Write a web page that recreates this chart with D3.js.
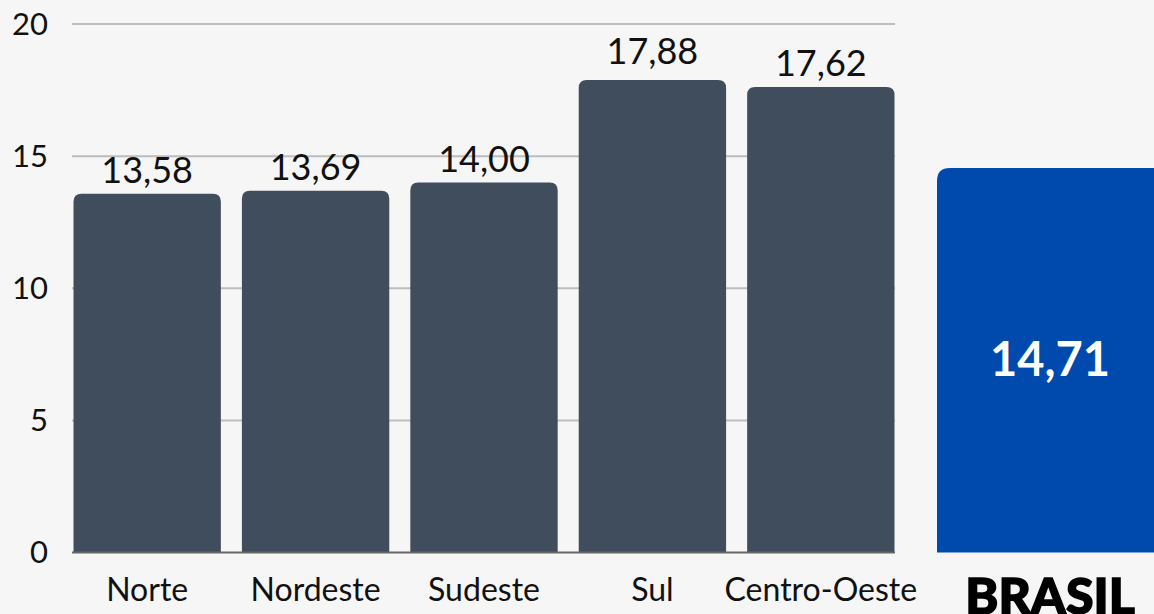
<!DOCTYPE html>
<html>
<head>
<meta charset="utf-8">
<script src="https://cdn.jsdelivr.net/npm/d3@7"></script>
<style>
  html, body { margin: 0; padding: 0; background: #f6f6f6; }
  svg { display: block; font-family: Lato, "Open Sans", sans-serif; }
</style>
</head>
<body>
<div id="chart"></div>
<script>
var width = 1154,
    height = 614;

// data
var regions = ["Norte", "Nordeste", "Sudeste", "Sul", "Centro-Oeste"];
var values = [13.58, 13.69, 14.00, 17.88, 17.62];
var valueLabels = ["13,58", "13,69", "14,00", "17,88", "17,62"];
var yTicks = [0, 5, 10, 15, 20];
var brasilValue = 14.71;
var brasilLabel = "14,71";

var svg = d3.select("#chart").append("svg")
    .attr("width", width)
    .attr("height", height);

svg.append("rect")
    .attr("width", width)
    .attr("height", height)
    .style("fill", "#f6f6f6");

var x = d3.scaleBand()
    .domain(regions)
    .range([73.5, 894.5])
    .paddingInner(0.125)
    .paddingOuter(0);

var y = d3.scaleLinear()
    .domain([0, 20])
    .range([552.5, 24]);

// gridlines
svg.selectAll("line.grid")
    .data(yTicks.filter(function (d) { return d > 0; }))
    .enter().append("line")
    .attr("class", "grid")
    .attr("x1", 72)
    .attr("x2", 895)
    .attr("y1", function (d) { return y(d); })
    .attr("y2", function (d) { return y(d); })
    .style("stroke", "#bdbdbd")
    .style("stroke-width", 2);

// y tick labels
svg.selectAll("text.ytick")
    .data(yTicks)
    .enter().append("text")
    .attr("class", "ytick")
    .attr("x", 48)
    .attr("y", function (d) { return y(d); })
    .attr("dy", "0.35em")
    .attr("text-anchor", "end")
    .style("font-size", "31px")
    .style("fill", "#111")
    .text(function (d) { return d; });

// bars with rounded tops
function topRounded(x0, y0, w, h, r) {
    return "M" + x0 + "," + (y0 + h) +
        "V" + (y0 + r) +
        "Q" + x0 + "," + y0 + " " + (x0 + r) + "," + y0 +
        "H" + (x0 + w - r) +
        "Q" + (x0 + w) + "," + y0 + " " + (x0 + w) + "," + (y0 + r) +
        "V" + (y0 + h) + "Z";
}

svg.selectAll("path.bar")
    .data(values)
    .enter().append("path")
    .attr("class", "bar")
    .attr("d", function (d, i) {
        return topRounded(x(regions[i]), y(d), x.bandwidth(), y(0) - y(d), 8);
    })
    .style("fill", "#404d5c");

// baseline
svg.append("line")
    .attr("x1", 72)
    .attr("x2", 895)
    .attr("y1", y(0))
    .attr("y2", y(0))
    .style("stroke", "#666")
    .style("stroke-width", 2);

// value labels
svg.selectAll("text.val")
    .data(values)
    .enter().append("text")
    .attr("class", "val")
    .attr("x", function (d, i) { return x(regions[i]) + x.bandwidth() / 2; })
    .attr("y", function (d, i) { return y(d) - (i === 3 ? 16 : 11); })
    .attr("text-anchor", "middle")
    .style("font-size", "36px")
    .style("fill", "#111")
    .text(function (d, i) { return valueLabels[i]; });

// category labels
svg.selectAll("text.cat")
    .data(regions)
    .enter().append("text")
    .attr("class", "cat")
    .attr("x", function (d) { return x(d) + x.bandwidth() / 2; })
    .attr("y", 601)
    .attr("text-anchor", "middle")
    .style("font-size", "32px")
    .style("fill", "#111")
    .text(function (d) { return d; });

// Brasil panel
var bx = 937, bw = 240;
var yb = d3.scaleLinear()
    .domain([0, brasilValue])
    .range([552.5, 168]);

svg.append("path")
    .attr("d", topRounded(bx, yb(brasilValue), bw, yb(0) - yb(brasilValue), 13))
    .style("fill", "#004aad");

svg.append("text")
    .attr("x", 1050)
    .attr("y", 360)
    .attr("dy", "0.35em")
    .attr("text-anchor", "middle")
    .style("font-size", "47px")
    .style("font-weight", "bold")
    .style("fill", "#fff")
    .text(brasilLabel);

svg.append("text")
    .attr("x", 1050)
    .attr("y", 614)
    .attr("text-anchor", "middle")
    .style("font-size", "50px")
    .style("font-weight", "900")
    .style("fill", "#000")
    .style("stroke", "#000")
    .style("stroke-width", 1.5)
    .text("BRASIL");
</script>
</body>
</html>
